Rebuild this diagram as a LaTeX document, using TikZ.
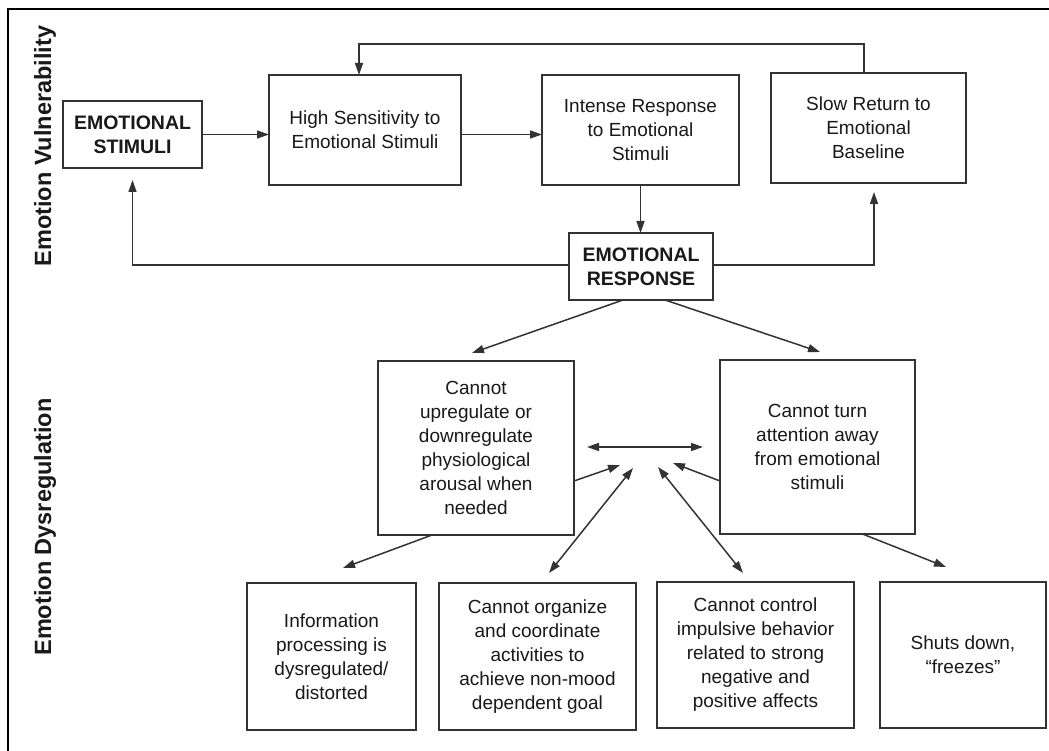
\documentclass[tikz,border=0pt]{standalone}
\usepackage{fontspec}
\setmainfont{Liberation Sans}
\usetikzlibrary{arrows.meta}
\begin{document}
\begin{tikzpicture}[x=1pt,y=-1pt,
  box/.style={draw=black!80, line width=1.5pt, align=center, inner sep=2pt, outer sep=0pt,
    font=\fontsize{19}{24}\selectfont, text=black!90},
  bbox/.style={box, font=\fontsize{19.5}{24}\selectfont\bfseries},
  conn/.style={draw=black!80, line width=1.5pt, -{Triangle[length=12pt,width=8pt]}},
  dconn/.style={draw=black!80, line width=1.5pt, {Triangle[length=12pt,width=8pt]}-{Triangle[length=12pt,width=8pt]}},
  side/.style={font=\fontsize{23.5}{28}\selectfont\bfseries, rotate=90, text=black!90},
  frame/.style={draw=black, line width=2.6pt}
]
\useasboundingbox[fill=white] (0,0) rectangle (1049,751);
\draw[frame] (8,760) -- (8,9) -- (1060,9);

% side labels
\node[side] (lv) at (45,146) {Emotion Vulnerability};
\node[side] (ld) at (45,527) {Emotion Dysregulation};

% top row
\node[bbox, minimum width=139pt, minimum height=67pt] (stim) at (132.5,134.5) {EMOTIONAL\\STIMULI};
\node[box, minimum width=192pt, minimum height=110pt] (high) at (365,130) {High Sensitivity to\\Emotional Stimuli};
\node[box, minimum width=197pt, minimum height=110pt] (intense) at (640.5,130) {Intense Response\\to Emotional\\Stimuli};
\node[box, minimum width=195pt, minimum height=110pt] (slow) at (868.5,128) {Slow Return to\\Emotional\\Baseline};
\node[bbox, minimum width=144pt, minimum height=67pt] (resp) at (641,266.5) {EMOTIONAL\\RESPONSE};

% middle row
\node[box, minimum width=196pt, minimum height=174pt] (up) at (476,448) {Cannot\\upregulate or\\downregulate\\physiological\\arousal when\\needed};
\node[box, minimum width=195pt, minimum height=174pt] (att) at (817.5,447) {Cannot turn\\attention away\\from emotional\\stimuli};

% bottom row
\node[box, minimum width=169pt, minimum height=147pt] (b1) at (331.5,656.5) {Information\\processing is\\dysregulated/\\distorted};
\node[box, minimum width=197pt, minimum height=147pt] (b2) at (537.5,656.5) {Cannot organize\\and coordinate\\activities to\\achieve non-mood\\dependent goal};
\node[box, minimum width=197pt, minimum height=146pt] (b3) at (755.5,655) {Cannot control\\impulsive behavior\\related to strong\\negative and\\positive affects};
\node[box, minimum width=166pt, minimum height=146pt] (b4) at (963,655) {Shuts down,\\``freezes''};

% free-end coordinates
\coordinate (hl) at (587,447);
\coordinate (hr) at (703,447);
\coordinate (c1) at (620,465);
\coordinate (c2) at (673,463);
\coordinate (c3) at (633,468);
\coordinate (c4) at (658,467);
\coordinate (t1) at (343,568);
\coordinate (t2) at (549,573);
\coordinate (t3) at (743,573);
\coordinate (t4) at (946,567);

% top connectors
\draw[conn] (stim.east) -- (stim.east -| high.west);
\draw[conn] (high.east |- stim.east) -- (intense.west |- stim.east);
\draw[conn] (intense.south) -- (intense.south |- resp.north);
\draw[conn] ([xshift=-4.5pt]slow.north) -- ++(0,-29) -| ([xshift=-6pt]high.north);
\draw[conn] ([yshift=1.5pt]resp.west) -| ([yshift=-12pt]stim.south);
\draw[conn] ([yshift=1.5pt]resp.east) -| ([xshift=5.5pt,yshift=-9pt]slow.south);

% response to middle
\draw[conn] ([xshift=-18pt]resp.south) -- ([xshift=-4pt,yshift=8pt]up.north);
\draw[conn] ([xshift=24pt]resp.south) -- ([xshift=2.5pt,yshift=8pt]att.north);

% hub
\draw[dconn] (hl) -- (hr);
\draw[conn] ([yshift=-33pt]up.east) -- (c1);
\draw[conn] ([yshift=-34pt]att.west) -- (c2);
\draw[dconn] (c3) -- (t2);
\draw[dconn] (c4) -- (t3);

% middle to bottom
\draw[conn] ([xshift=-44pt]up.south) -- (t1);
\draw[conn] ([xshift=45pt]att.south) -- (t4);
\end{tikzpicture}
\end{document}
